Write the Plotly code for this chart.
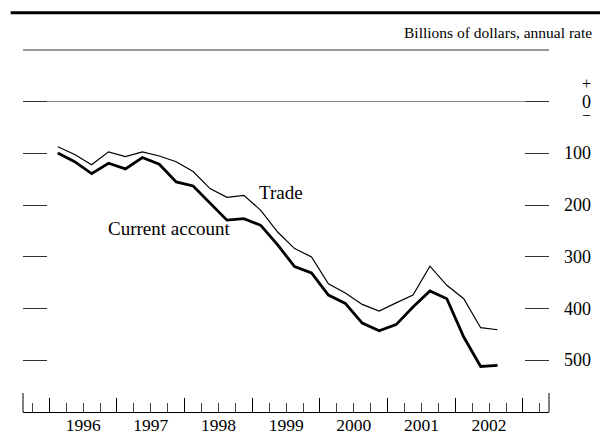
import plotly.graph_objects as go

quarters = ["1996Q1", "1996Q2", "1996Q3", "1996Q4",
            "1997Q1", "1997Q2", "1997Q3", "1997Q4",
            "1998Q1", "1998Q2", "1998Q3", "1998Q4",
            "1999Q1", "1999Q2", "1999Q3", "1999Q4",
            "2000Q1", "2000Q2", "2000Q3", "2000Q4",
            "2001Q1", "2001Q2", "2001Q3", "2001Q4",
            "2002Q1", "2002Q2", "2002Q3"]
current_account = [99, 116, 139, 119, 130, 108, 121, 155, 163, 197,
                   229, 226, 239, 277, 319, 331, 374, 390, 428, 443,
                   431, 397, 366, 381, 455, 512, 510]
trade = [87, 102, 122, 97, 106, 97, 105, 116, 135, 168,
         185, 181, 210, 252, 284, 300, 352, 370, 392, 405,
         389, 374, 318, 355, 381, 437, 441]
year_labels = ["1996", "1997", "1998", "1999", "2000", "2001", "2002"]
y_ticks = [0, 100, 200, 300, 400, 500]

x_vals = [int(q[:4]) + (int(q[5]) - 0.5) / 4 for q in quarters]
x_range = [1995.611, 2003.385]
y_range = [600, -100]
FONT = "Liberation Serif, Times New Roman, serif"

fig = go.Figure()
fig.add_trace(go.Scatter(x=x_vals, y=current_account, mode="lines",
                         line=dict(color="black", width=2.8),
                         xaxis="x", yaxis="y", showlegend=False, hoverinfo="skip"))
fig.add_trace(go.Scatter(x=x_vals, y=trade, mode="lines",
                         line=dict(color="black", width=1.2),
                         xaxis="x2", yaxis="y2", showlegend=False, hoverinfo="skip"))

annotations = [
    dict(text="Billions of dollars, annual rate", xref="paper", yref="paper",
         x=1.0855, y=1.047, xanchor="right", yanchor="middle", showarrow=False,
         font=dict(family=FONT, size=15.5, color="black")),
    dict(text="Trade", xref="x", yref="y", x=1999.07, y=175,
         xanchor="left", yanchor="middle", showarrow=False,
         font=dict(family=FONT, size=19, color="black")),
    dict(text="Current account", xref="x", yref="y", x=1996.84, y=246,
         xanchor="left", yanchor="middle", showarrow=False,
         font=dict(family=FONT, size=19, color="black")),
    dict(text="+", xref="paper", yref="y", x=1.0837, y=0, yshift=18,
         xanchor="right", yanchor="middle", showarrow=False,
         font=dict(family=FONT, size=16, color="black")),
    dict(text="\u2212", xref="paper", yref="y", x=1.0837, y=0, yshift=-14,
         xanchor="right", yanchor="middle", showarrow=False,
         font=dict(family=FONT, size=16, color="black")),
]
for v in y_ticks:
    annotations.append(dict(text=str(v), xref="paper", yref="y", x=1.0837, y=v,
                            xanchor="right", yanchor="middle", showarrow=False,
                            font=dict(family=FONT, size=18, color="black")))

shapes = [
    dict(type="line", xref="paper", yref="paper", x0=-0.0234, x1=1.097,
         y0=1.103, y1=1.103, line=dict(color="black", width=3)),
    dict(type="line", xref="paper", yref="paper", x0=0, x1=1,
         y0=1, y1=1, line=dict(color="#777", width=1.3)),
    dict(type="line", xref="paper", yref="paper", x0=0, x1=0,
         y0=0, y1=0.0525, line=dict(color="black", width=1)),
    dict(type="line", xref="paper", yref="paper", x0=1, x1=1,
         y0=0, y1=0.0525, line=dict(color="black", width=1)),
]

fig.update_layout(
    width=600, height=435,
    margin=dict(l=23, r=51, t=50, b=23, pad=0, autoexpand=False),
    paper_bgcolor="white", plot_bgcolor="white",
    font=dict(family=FONT, size=18, color="black"),
    xaxis=dict(range=x_range, showgrid=False, zeroline=False, automargin=False,
               showline=True, linecolor="black", linewidth=1,
               tickmode="linear", tick0=1996, dtick=1,
               ticks="inside", ticklen=14, tickcolor="black", tickwidth=1,
               showticklabels=False,
               minor=dict(tickmode="linear", tick0=1996, dtick=0.25,
                          ticks="inside", ticklen=9.5, tickcolor="#444", tickwidth=1,
                          showgrid=False)),
    xaxis2=dict(range=x_range, overlaying="x", side="bottom", showgrid=False,
                zeroline=False, showline=False, automargin=False,
                tickmode="array", tickvals=[int(y) + 0.5 for y in year_labels],
                ticktext=year_labels, ticks="", ticklabelstandoff=0,
                tickfont=dict(family=FONT, size=17.5, color="black")),
    yaxis=dict(range=y_range, showgrid=False, zeroline=True, automargin=False,
               zerolinecolor="#888", zerolinewidth=1, showline=False,
               tickmode="array", tickvals=y_ticks, ticks="inside", ticklen=24,
               tickcolor="#333", tickwidth=1, showticklabels=False),
    yaxis2=dict(range=y_range, overlaying="y", side="right", showgrid=False,
                zeroline=False, showline=False, automargin=False,
                tickmode="array", tickvals=y_ticks, ticks="inside", ticklen=24,
                tickcolor="#333", tickwidth=1, showticklabels=False),
    annotations=annotations,
    shapes=shapes,
)

fig.write_html("out.html", config={"displayModeBar": False},
               post_script="document.body.style.margin='0';document.body.style.overflow='hidden';")
